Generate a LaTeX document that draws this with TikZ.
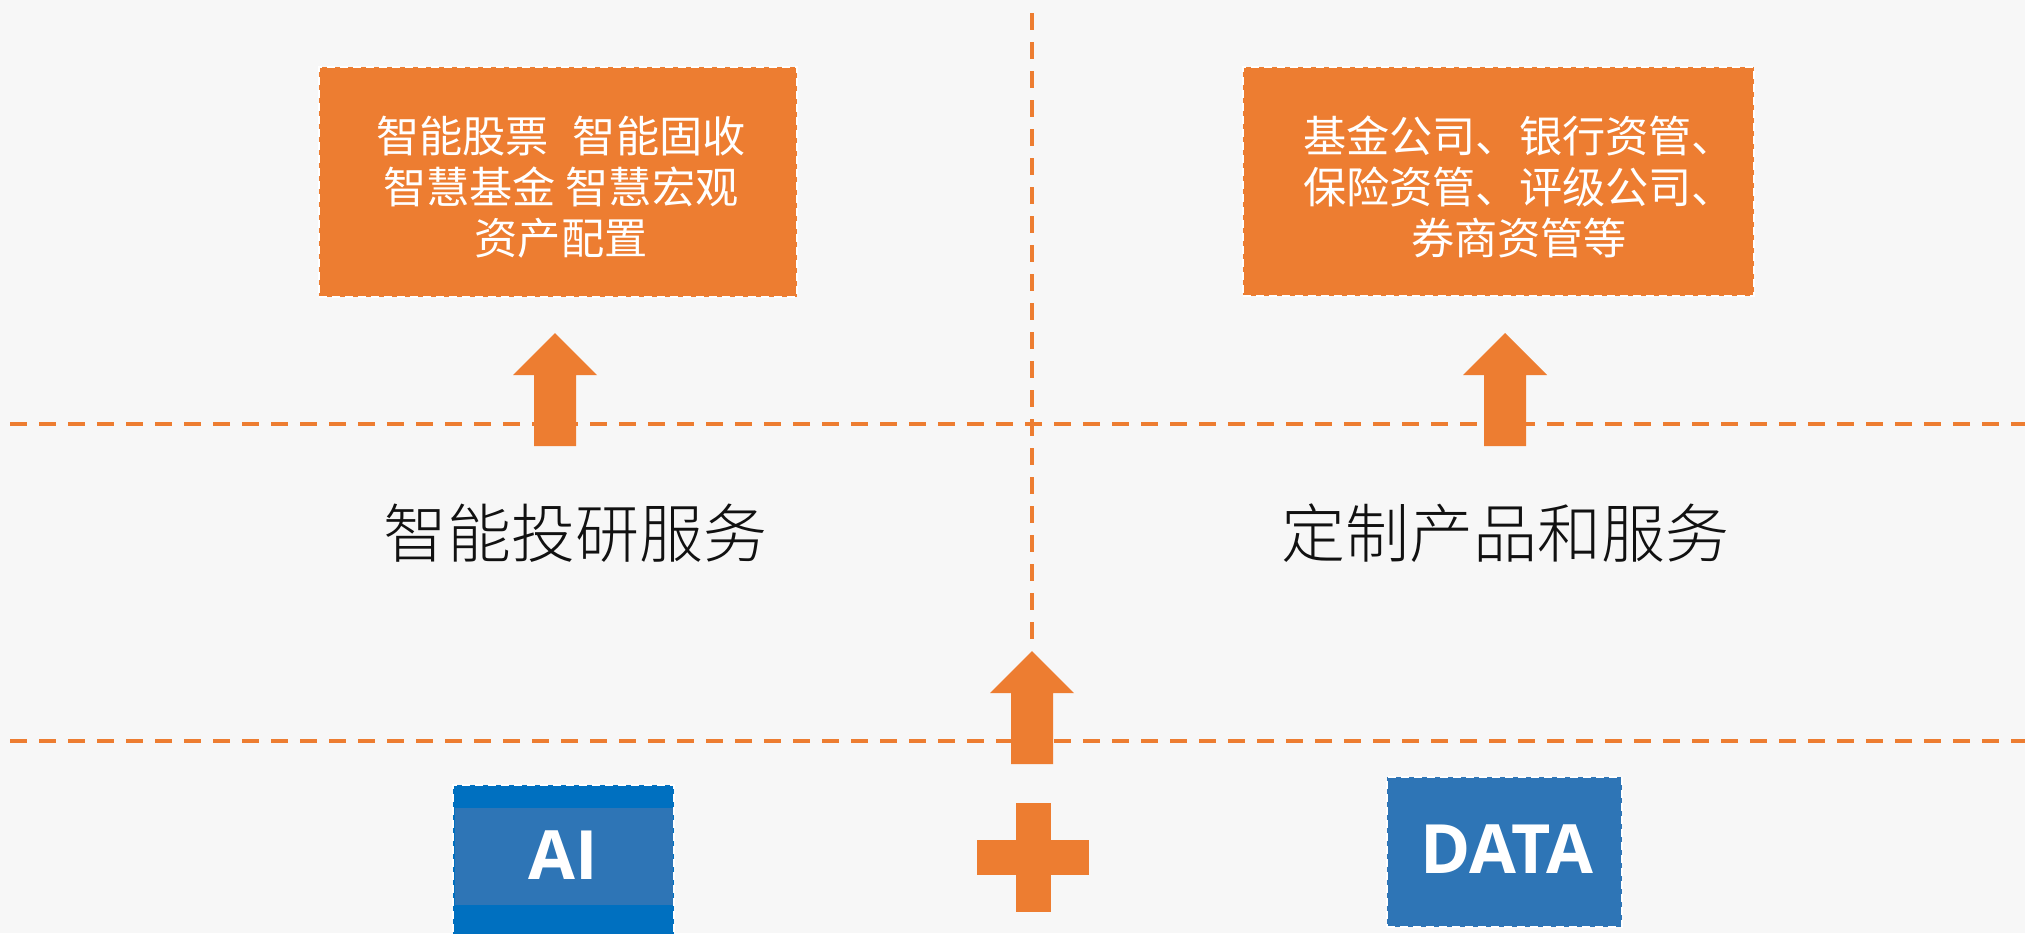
\documentclass[tikz,border=0pt]{standalone}
\usepackage{fontspec}
\newfontfamily\cjk{Noto Sans CJK SC}
\newfontfamily\cjklight{Noto Sans CJK SC Light}
\newfontfamily\latinbold{Open Sans}
\definecolor{accent}{HTML}{ED7D31}
\definecolor{deepblue}{HTML}{0070C0}
\definecolor{midblue}{HTML}{2E75B6}
\definecolor{paper}{HTML}{F7F7F7}
\definecolor{ink}{HTML}{111111}

% block arrow pointing up, tip at (#1,#2)
\newcommand{\uparrowblock}[2]{%
  \fill[accent] (#1,#2) -- ++(42,42) -- ++(-21,0) -- ++(0,71) -- ++(-42,0)
    -- ++(0,-71) -- ++(-21,0) -- cycle;}

\begin{document}
\begin{tikzpicture}[
    x=0.5pt, y=-0.5pt,
    divider/.style={draw=accent, line width=2pt, dash pattern=on 8.5pt off 6pt},
    orangebox/.style={rectangle, fill=accent, draw=white, line width=1.2pt,
      dash pattern=on 4pt off 2.5pt, inner sep=0pt},
    bluebox/.style={rectangle, fill=#1, draw=white, line width=1.2pt,
      dash pattern=on 4pt off 2.5pt, inner sep=0pt},
    boxtext/.style={text=white, align=center, font=\cjk\fontsize{21.6}{25.5}\selectfont},
    layertext/.style={text=ink, anchor=base, font=\cjklight\fontsize{32}{38}\selectfont},
    sourcetext/.style={text=white, anchor=base, font=\latinbold\bfseries\fontsize{34}{40}\selectfont}
  ]

  \useasboundingbox (0,0) rectangle (2025,933);
  \clip (0,0) rectangle (2025,933);
  \fill[paper] (0,0) rectangle (2025,933);

  %Lines
  \draw[divider] (10,424) -- (2025,424);
  \draw[divider] (10,741) -- (2025,741);
  \draw[divider] (1032,13) -- (1032,642);

  %Nodes
  \node[orangebox, minimum width=239pt, minimum height=115pt] at (558,182) (stockbox) {};
  \node[boxtext] at (561,187) (stocktext) {智能股票\hspace{0.55em}智能固收\\智慧基金 智慧宏观\\资产配置};
  \node[orangebox, minimum width=255.5pt, minimum height=114.5pt] at (1498.5,181.5) (clientbox) {};
  \node[boxtext] at (1519,187) (clienttext) {基金公司、银行资管、\\保险资管、评级公司、\\券商资管等};

  \node[layertext] at (575,557) (research) {智能投研服务};
  \node[layertext] at (1505,557) (custom) {定制产品和服务};

  \node[bluebox=deepblue, minimum width=110.5pt, minimum height=80pt] at (563.5,865) (aibox) {};
  \fill[midblue] (455,808) rectangle (673,905);
  \node[sourcetext] at (563,879) (ai) {AI};
  \node[bluebox=midblue, minimum width=117.5pt, minimum height=75pt] at (1504.5,852) (databox) {};
  \node[sourcetext] at (1507,873) (data) {DATA};

  %Arrows
  \uparrowblock{555}{333}
  \uparrowblock{1505}{333}
  \uparrowblock{1032}{651}

  %Plus
  \fill[accent] (1016,803) rectangle (1051,912);
  \fill[accent] (977,840) rectangle (1089,875);

\end{tikzpicture}
\end{document}
